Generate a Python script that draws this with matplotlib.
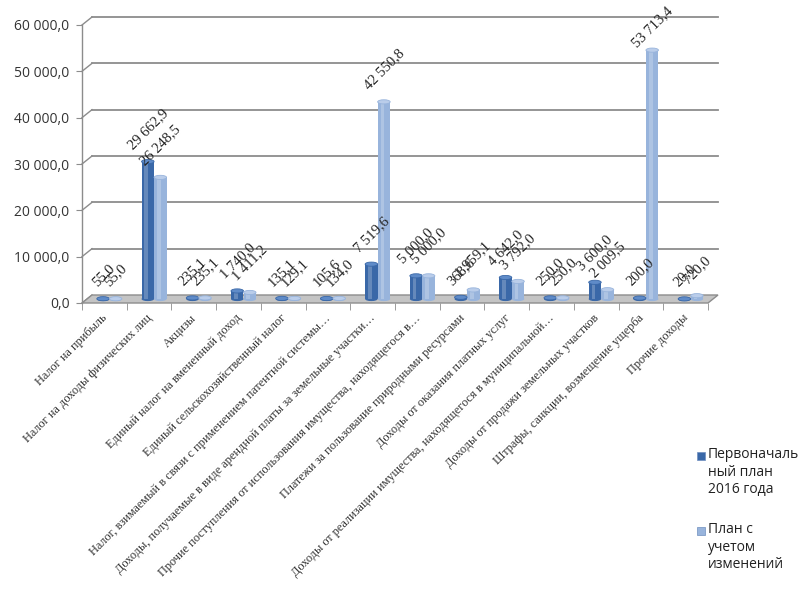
import numpy as np
import matplotlib
matplotlib.use("Agg")
import matplotlib.pyplot as plt
from matplotlib.patches import Polygon, Ellipse, Rectangle
from matplotlib.transforms import ScaledTranslation

categories = [
    "Налог на прибыль",
    "Налог на доходы физических лиц",
    "Акцизы",
    "Единый налог на вмененный доход",
    "Единый сельскохозяйственный налог",
    "Налог, взимаемый в связи с применением патентной системы…",
    "Доходы, получаемые в виде арендной платы за земельные участки…",
    "Прочие поступления от использования имущества, находящегося в…",
    "Платежи за пользование природными ресурсами",
    "Доходы от оказания платных услуг",
    "Доходы от реализации имущества, находящегося в муниципальной…",
    "Доходы от продажи земельных участков",
    "Штрафы, санкции, возмещение ущерба",
    "Прочие доходы",
]
plan_initial = [55.0, 29662.9, 235.1, 1740.0, 135.1, 105.6, 7519.6,
                5000.0, 368.6, 4642.0, 250.0, 3600.0, 200.0, 20.0]
plan_changed = [55.0, 26248.5, 235.1, 1411.2, 129.1, 134.0, 42550.8,
                5000.0, 1959.1, 3792.0, 250.0, 2009.5, 53713.4, 720.0]
series_names = ["Первоначаль\nный план\n2016 года", "План с\nучетом\nизменений"]
yticks = [0, 10000, 20000, 30000, 40000, 50000, 60000]

dark = "#3A68A8"
light = "#98B4DC"
grid_c = "#8C8C8C"
sans = ["Open Sans", "DejaVu Sans"]
serif = ["Liberation Serif", "DejaVu Serif"]

def fmt(v):
    s = "{:,.1f}".format(v).replace(",", " ").replace(".", ",")
    return s

fig = plt.figure(figsize=(8, 5.89), dpi=100)
ax = fig.add_axes([82/800, 1-303/589, 626/800, 278/589])
n = len(categories)
ax.set_xlim(-0.5, n-0.5)
ax.set_ylim(0, 60000)

# 3D depth offsets (pixels)
back = ax.transData + ScaledTranslation(10/100, 8/100, fig.dpi_scale_trans)
mid = ax.transData + ScaledTranslation(5/100, 4/100, fig.dpi_scale_trans)

# back wall gridlines + slanted links from the front axis
for v in yticks[1:]:
    ax.plot([-0.5, n-0.5], [v, v], color=grid_c, lw=1.3, transform=back, zorder=1, clip_on=False)
for v in yticks:
    x0, y0 = ax.transData.transform((-0.5, v))
    x1, y1 = back.transform((-0.5, v))
    ax.plot([x0, x1], [y0, y1], color=grid_c, lw=1.0, transform=None, zorder=1, clip_on=False)

# floor
p_front = ax.transData.transform([(-0.5, 0), (n-0.5, 0)])
p_back = back.transform([(n-0.5, 0), (-0.5, 0)])
floor = Polygon(np.vstack([p_front, p_back]), closed=True, transform=None,
                facecolor="#C4C4C4", edgecolor="#8C8C8C", lw=1.0, zorder=2, clip_on=False)
ax.add_artist(floor)

# cylinders
w = 0.28
cap_h = 900
for vals, col, cap_col, dx in [(plan_initial, dark, "#5F8BC8", -w/2), (plan_changed, light, "#BACDEA", w/2)]:
    xs = np.arange(n) + dx
    for x, v in zip(xs, vals):
        ax.add_patch(Ellipse((x, 0), w, cap_h, facecolor=col, edgecolor="none", transform=mid, zorder=3))
        ax.bar(x, v, width=w, color=col, transform=mid, zorder=3, edgecolor="none")
        ax.bar(x - w*0.12, v, width=w*0.3, color="white", alpha=0.22, transform=mid, zorder=3, edgecolor="none")
        ax.add_patch(Ellipse((x, v), w, cap_h, facecolor=cap_col, edgecolor=col, lw=0.6, transform=mid, zorder=4))
        gap = 0 if v > 50000 else 7
        ax.annotate(fmt(v), (x, v), xytext=(3.6, 2.9 + gap), textcoords="offset points",
                    ha="center", va="bottom", rotation=45, fontsize=10.5,
                    family=serif, color="#222222", zorder=5, annotation_clip=False)

# axes styling
for s in ["top", "right", "left", "bottom"]:
    ax.spines[s].set_visible(False)
ax.plot([-0.5, -0.5], [0, 60000], color=grid_c, lw=1.0, clip_on=False, zorder=1)
ax.set_yticks(yticks)
ax.set_yticklabels([fmt(v) for v in yticks], fontsize=10, family=sans, color="#333333")
ax.tick_params(axis="y", length=4, color=grid_c, pad=5)
ax.set_xticks(np.arange(n))
ax.set_xticklabels([])
ax.tick_params(axis="x", which="major", length=0)
ax.set_xticks(np.arange(n+1) - 0.5, minor=True)
ax.tick_params(axis="x", which="minor", length=5, color=grid_c)

lab = ax.transData + ScaledTranslation(-3/100, -9/100, fig.dpi_scale_trans)
for i, c in enumerate(categories):
    ax.text(i, 0, c, transform=lab, rotation=45, rotation_mode="anchor", ha="right", va="top",
            fontsize=8.8, family=serif, color="#333333", clip_on=False)

# legend
for (ty, name, col) in [(456, series_names[0], dark), (531, series_names[1], light)]:
    fig.patches.append(Rectangle((697/800, 1-(ty+4)/589), 8/800, 8/589, transform=fig.transFigure,
                                 facecolor=col, edgecolor="#6F8FBF", lw=0.5))
    fig.text(708/800, 1-(ty-9)/589, name, ha="left", va="top", fontsize=10, family=sans,
             color="#222222", linespacing=1.25)

fig.savefig("out.png", dpi=100)
